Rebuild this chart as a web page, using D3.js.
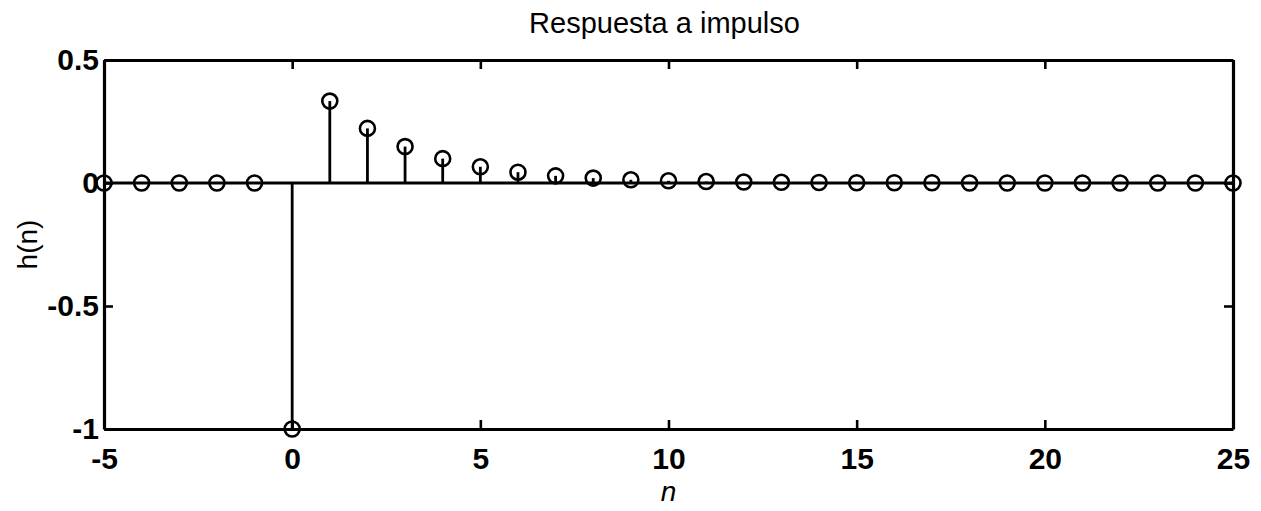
<!DOCTYPE html>
<html>
<head>
<meta charset="utf-8">
<script src="https://cdn.jsdelivr.net/npm/d3@7"></script>
<style>
  html, body { margin: 0; padding: 0; background: #fff; }
  svg { display: block; }
  text { font-family: "Liberation Sans", Arial, Helvetica, sans-serif; fill: #000; }
</style>
</head>
<body>
<svg id="chart" width="1261" height="511"></svg>
<script>
// Impulse response samples h(n), n = -5 .. 25
const nValues = d3.range(-5, 26);
const hValues = [
  0, 0, 0, 0, 0,
  -1,
  0.333, 0.222, 0.148, 0.099, 0.066, 0.044, 0.029, 0.02, 0.013, 0.009,
  0.006, 0.004, 0.003, 0.002, 0.001, 0.001, 0.001, 0, 0, 0,
  0, 0, 0, 0, 0
];
const xTicks = [-5, 0, 5, 10, 15, 20, 25];
const yTicks = [-1, -0.5, 0, 0.5];
const xDomain = [-5, 25];
const yDomain = [-1, 0.5];

const svg = d3.select("#chart");
const margin = { left: 104, right: 28, top: 60, bottom: 82 };
const W = 1261, H = 511;
const x = d3.scaleLinear().domain(xDomain).range([margin.left, W - margin.right]);
const y = d3.scaleLinear().domain(yDomain).range([H - margin.bottom, margin.top]);

const samples = nValues.map((n, i) => ({ n, h: hValues[i] }));

// Baseline of the stem plot
svg.append("line")
  .attr("x1", x(xDomain[0])).attr("x2", x(xDomain[1]))
  .attr("y1", y(0)).attr("y2", y(0))
  .attr("stroke", "#000").attr("stroke-width", 3);

// Stems
svg.append("g").selectAll("line").data(samples).join("line")
  .attr("x1", d => x(d.n)).attr("x2", d => x(d.n))
  .attr("y1", y(0)).attr("y2", d => y(d.h))
  .attr("stroke", "#000").attr("stroke-width", 2.8);

// Axes box with inward ticks on all sides
const tickLen = 9;
const axisW = 3.2;
const axisB = d3.axisBottom(x).tickValues(xTicks).tickSizeInner(-tickLen).tickSizeOuter(0).tickPadding(19).tickFormat(d => String(d));
const axisT = d3.axisTop(x).tickValues(xTicks).tickSizeInner(-tickLen).tickSizeOuter(0).tickFormat("");
const axisL = d3.axisLeft(y).tickValues(yTicks).tickSizeInner(-tickLen).tickSizeOuter(0).tickPadding(5).tickFormat(d => String(d));
const axisR = d3.axisRight(y).tickValues(yTicks).tickSizeInner(-tickLen).tickSizeOuter(0).tickFormat("");

function styleAxis(g) {
  g.select(".domain").attr("stroke", "#000").attr("stroke-width", axisW);
  g.selectAll(".tick line").attr("stroke", "#000").attr("stroke-width", 2.6);
  g.selectAll(".tick text").attr("font-size", 30).attr("font-weight", "bold")
    .attr("font-family", "'Liberation Sans', Arial, sans-serif").attr("fill", "#000");
}
svg.append("g").attr("transform", `translate(0,${y(yDomain[0])})`).call(axisB).call(styleAxis);
svg.append("g").attr("transform", `translate(0,${y(yDomain[1])})`).call(axisT).call(styleAxis);
svg.append("g").attr("transform", `translate(${x(xDomain[0])},0)`).call(axisL).call(styleAxis);
svg.append("g").attr("transform", `translate(${x(xDomain[1])},0)`).call(axisR).call(styleAxis);

// Sample markers
svg.append("g").selectAll("circle").data(samples).join("circle")
  .attr("cx", d => x(d.n)).attr("cy", d => y(d.h)).attr("r", 7.5)
  .attr("fill", "none").attr("stroke", "#000").attr("stroke-width", 2.6);

// Title and axis labels
svg.append("text")
  .attr("x", (x(xDomain[0]) + x(xDomain[1])) / 2 - 4).attr("y", 33)
  .attr("text-anchor", "middle").attr("font-size", 29)
  .text("Respuesta a impulso");

svg.append("text")
  .attr("x", (x(xDomain[0]) + x(xDomain[1])) / 2).attr("y", 501)
  .attr("text-anchor", "middle").attr("font-size", 28).attr("font-style", "italic")
  .text("n");

svg.append("text")
  .attr("transform", `translate(37,${(y(yDomain[0]) + y(yDomain[1])) / 2}) rotate(-90)`)
  .attr("text-anchor", "middle").attr("font-size", 28)
  .text("h(n)");
</script>
</body>
</html>
